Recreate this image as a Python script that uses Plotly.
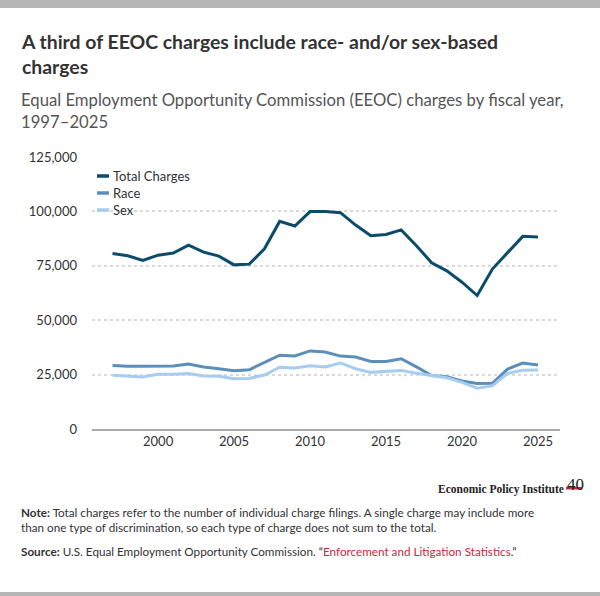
import plotly.graph_objects as go

FONT = "Lato"
TEXT_COLOUR = "#333333"
SUB_COLOUR = "#555555"
TOTAL_COLOUR = "#0b4c6b"
RACE_COLOUR = "#5b8fba"
SEX_COLOUR = "#a6cdef"
LINK_COLOUR = "#c8283a"

years = list(range(1997, 2026))

total_charges = [80680, 79591, 77444, 79896, 80840, 84442, 81293, 79432, 75428, 75768,
                 82792, 95402, 93277, 99922, 99947, 99412, 93727, 88778, 89385, 91503,
                 84254, 76418, 72675, 67448, 61331, 73485, 81055, 88531, 88200]

race = [29199, 28820, 28819, 28945, 28912, 29910, 28526, 27696, 26740, 27238,
        30510, 33937, 33579, 35890, 35395, 33512, 33068, 31073, 31027, 32309,
        28528, 24600, 23976, 22064, 20908, 20992, 27505, 30300, 29400]

sex = [24728, 24454, 23907, 25194, 25140, 25536, 24362, 24249, 23094, 23247,
       24826, 28372, 28028, 29029, 28534, 30356, 27687, 26027, 26396, 26934,
       25605, 24655, 23532, 21398, 18762, 19805, 25600, 27000, 27100]

y_ticks = [0, 25000, 50000, 75000, 100000, 125000]
y_tick_labels = ["0", "25,000", "50,000", "75,000", "100,000", "125,000"]
x_ticks = [2000, 2005, 2010, 2015, 2020, 2025]

series = [
    ("Total Charges", total_charges, TOTAL_COLOUR),
    ("Race", race, RACE_COLOUR),
    ("Sex", sex, SEX_COLOUR),
]

fig = go.Figure()
for name, values, colour in series:
    fig.add_trace(go.Scatter(x=years, y=values, mode="lines", name=name,
                             line={"color": colour, "width": 3}, showlegend=False))

# plot area in pixels: left 92, right 560, top 157, bottom 429
W, H = 600, 596
L, R, T, B = 92, 40, 157, 167
PW, PH = W - L - R, H - T - B


def px(x):
    return (x - L) / PW


def py(y):
    return (H - B - y) / PH


annotations = [
    dict(text="<b>A third of EEOC charges include race- and/or sex-based<br>charges</b>",
         x=px(19), y=py(28), xanchor="left", yanchor="top", align="left",
         font={"size": 19.4, "color": TEXT_COLOUR}),
    dict(text="Equal Employment Opportunity Commission (EEOC) charges by fiscal year,<br>1997\u20132025",
         x=px(19), y=py(88), xanchor="left", yanchor="top", align="left",
         font={"size": 16.7, "color": SUB_COLOUR}),
    dict(text="<b>Note:</b> Total charges refer to the number of individual charge filings. "
              "A single charge may include more<br>than one type of discrimination, so each type "
              "of charge does not sum to the total.",
         x=px(19), y=py(503), xanchor="left", yanchor="top", align="left",
         font={"size": 11.7, "color": TEXT_COLOUR}),
    dict(text="<b>Source:</b> U.S. Equal Employment Opportunity Commission. \u201c"
              f"<span style='color:{LINK_COLOUR}'>Enforcement and Litigation Statistics</span>.\u201d",
         x=px(19), y=py(542), xanchor="left", yanchor="top", align="left",
         font={"size": 11.7, "color": TEXT_COLOUR}),
    dict(text="<b>Economic Policy Institute</b>",
         x=px(566), y=py(489), xanchor="right", yanchor="middle",
         font={"size": 11.5, "color": "#222222", "family": "Liberation Serif"}),
    dict(text="40",
         x=px(565), y=py(484), xanchor="left", yanchor="middle",
         font={"size": 17, "color": "#222222", "family": "Liberation Serif"}),
]

shapes = [
    dict(type="rect", xref="paper", yref="paper", x0=px(0), x1=px(W), y0=py(0), y1=py(8),
         fillcolor="#b5b5b5", line={"width": 0}, layer="above"),
    dict(type="rect", xref="paper", yref="paper", x0=px(0), x1=px(W), y0=py(592), y1=py(H),
         fillcolor="#b5b5b5", line={"width": 0}, layer="above"),
    dict(type="rect", xref="paper", yref="paper", x0=px(566), x1=px(582), y0=py(487), y1=py(489.5),
         fillcolor="#c8283a", line={"width": 0}, layer="above"),
]

# legend drawn as key line + label, one row per series
for i, (name, _, colour) in enumerate(series):
    row_y = py(176 + 17 * i)
    shapes.append(dict(type="line", xref="paper", yref="paper", x0=px(97), x1=px(109),
                       y0=row_y, y1=row_y, line={"color": colour, "width": 3.5}))
    annotations.append(dict(text=name, x=px(111), y=row_y, xanchor="left", yanchor="middle",
                            font={"size": 13, "color": TEXT_COLOUR}))

for a in annotations:
    a.update(xref="paper", yref="paper", showarrow=False)

fig.update_layout(
    width=W, height=H,
    margin={"l": L, "r": R, "t": T, "b": B, "pad": 0},
    paper_bgcolor="white", plot_bgcolor="white",
    font={"family": FONT, "size": 13, "color": TEXT_COLOUR},
    showlegend=False,
    annotations=annotations,
    shapes=shapes,
)
fig.update_xaxes(range=[1995.65, 2026.45], tickvals=x_ticks, showgrid=False, zeroline=False,
                 showline=True, linecolor="#aaaaaa", linewidth=1.5, ticks="",
                 tickfont={"size": 13, "color": TEXT_COLOUR})
fig.update_yaxes(range=[0, 125000], tickvals=y_ticks, ticktext=y_tick_labels,
                 showgrid=True, gridcolor="#d9d9d9", gridwidth=2, griddash="dot",
                 zeroline=False, ticks="", ticklabelstandoff=14,
                 tickfont={"size": 13, "color": TEXT_COLOUR})

fig.write_html("out.html", config={"displayModeBar": False},
               post_script="document.body.style.margin='0';")
